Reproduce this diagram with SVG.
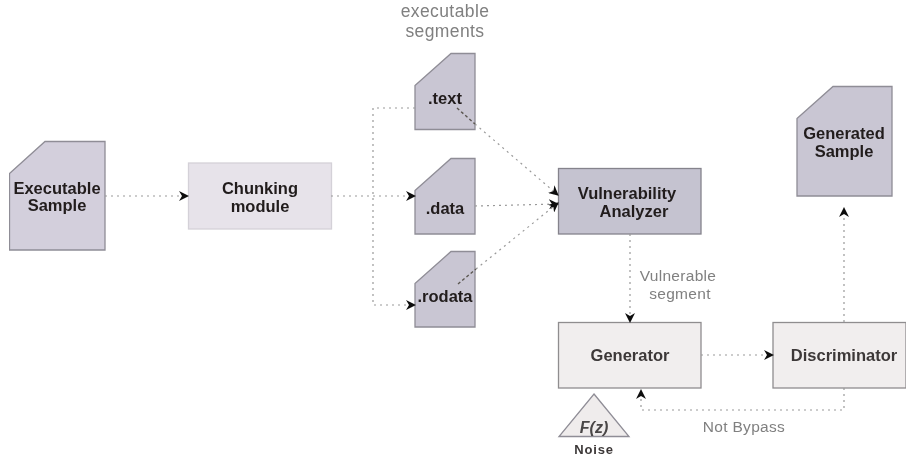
<svg xmlns="http://www.w3.org/2000/svg" width="907" height="462" viewBox="0 0 907 462">
<style>
text{font-family:"Liberation Sans",Arial,sans-serif;text-anchor:middle}
.b{font-weight:bold;font-size:16.5px;fill:#211d1d}
.l{font-size:15.5px;fill:#808080;letter-spacing:.3px}
.t{font-size:17.5px;fill:#808080;letter-spacing:.4px}
.doc{fill:#c9c6d3;stroke:#8f8d96;stroke-width:1.3}
.doc2{fill:#d3cfdc;stroke:#8f8d96;stroke-width:1.3}
.va{fill:#c5c3d0;stroke:#85838c;stroke-width:1.3}
.chunk{fill:#e7e3ea;stroke:#d4d1d8;stroke-width:1.3}
.box{fill:#f1eeee;stroke:#8f8d8f;stroke-width:1.3}
.c{fill:none;stroke:#999;stroke-width:1.2;stroke-dasharray:2 4}
.d{fill:none;stroke:#5a5650;stroke-width:1.4;stroke-dasharray:3 2.5}
</style>
<defs>
<marker id="a" viewBox="0 0 10 10" refX="9" refY="5" markerWidth="10" markerHeight="10" markerUnits="userSpaceOnUse" orient="auto"><path d="M0 0L10 5L0 10L3 5Z" fill="#111"/></marker>
<filter id="s" x="0" y="0" width="100%" height="100%"><feGaussianBlur stdDeviation="0.55"/></filter>
</defs>
<g filter="url(#s)">
<g id="executable-sample"><path class="doc2" d="M9.5 173.500L45 141.500H105V250H9.500Z"/><text class="b" x="57" y="193.500">Executable</text><text class="b" x="57" y="211">Sample</text></g>
<g id="chunking-module"><rect class="chunk" x="188.500" y="163" width="143" height="66"/><text class="b" x="260" y="194">Chunking</text><text class="b" x="260" y="211.500">module</text></g>
<g id="text-segment"><path class="doc" d="M415 85.500L451 53.500H475V129.500H415Z"/><text class="b" x="445" y="104">.text</text></g>
<g id="data-segment"><path class="doc" d="M415 190.500L451 158.500H475V234H415Z"/><text class="b" x="445" y="214">.data</text></g>
<g id="rodata-segment"><path class="doc" d="M415 283.500L451 251.500H475V327H415Z"/><text class="b" x="445" y="302">.rodata</text></g>
<g id="vulnerability-analyzer"><rect class="va" x="558.500" y="168.500" width="142.500" height="65.500"/><text class="b" x="627" y="199">Vulnerability</text><text class="b" x="634" y="217">Analyzer</text></g>
<g id="generator"><rect class="box" x="558.500" y="322.500" width="142.500" height="65.500"/><text class="b" x="630" y="361" style="fill:#3c3838">Generator</text></g>
<g id="discriminator"><rect class="box" x="773" y="322.500" width="133" height="65.500"/><text class="b" x="844" y="361" style="fill:#3c3838">Discriminator</text></g>
<g id="generated-sample"><path class="doc" d="M797 118.500L833 86.500H892V196H797Z"/><text class="b" x="844" y="139">Generated</text><text class="b" x="844" y="157">Sample</text></g>
<g id="noise"><path class="doc" d="M594 394L629 436.500H559Z" style="fill:#efecec"/><text x="594" y="433" style="font:italic bold 16px 'Liberation Sans',sans-serif;fill:#4a4646">F(z)</text><text x="594" y="454" style="font:bold 13px 'Liberation Sans',sans-serif;fill:#3c3838;letter-spacing:.8px">Noise</text></g>
<g id="labels"><text class="t" x="445" y="17">executable</text><text class="t" x="445" y="37">segments</text><text class="l" x="678" y="281">Vulnerable</text><text class="l" x="680" y="299">segment</text><text class="l" x="744" y="432">Not Bypass</text></g>
<g id="connectors">
<path class="c" d="M105 196H188" marker-end="url(#a)"/>
<path class="c" d="M331 196H415" marker-end="url(#a)"/>
<path class="c" d="M415 108H373V305H415" marker-end="url(#a)"/>
<path class="d" d="M457 108L475 124"/>
<path class="c" d="M475 124L558 195" marker-end="url(#a)"/>
<path class="c" d="M475 206L558 204" marker-end="url(#a)"/>
<path class="d" d="M458 284L476 269"/>
<path class="c" d="M476 269L558 203" marker-end="url(#a)"/>
<path class="c" d="M630 234V322" marker-end="url(#a)"/>
<path class="c" d="M701 355H773" marker-end="url(#a)"/>
<path class="c" d="M844 388V410H641V390" marker-end="url(#a)"/>
<path class="c" d="M844 322V208" marker-end="url(#a)"/>
</g>
</g>
</svg>
